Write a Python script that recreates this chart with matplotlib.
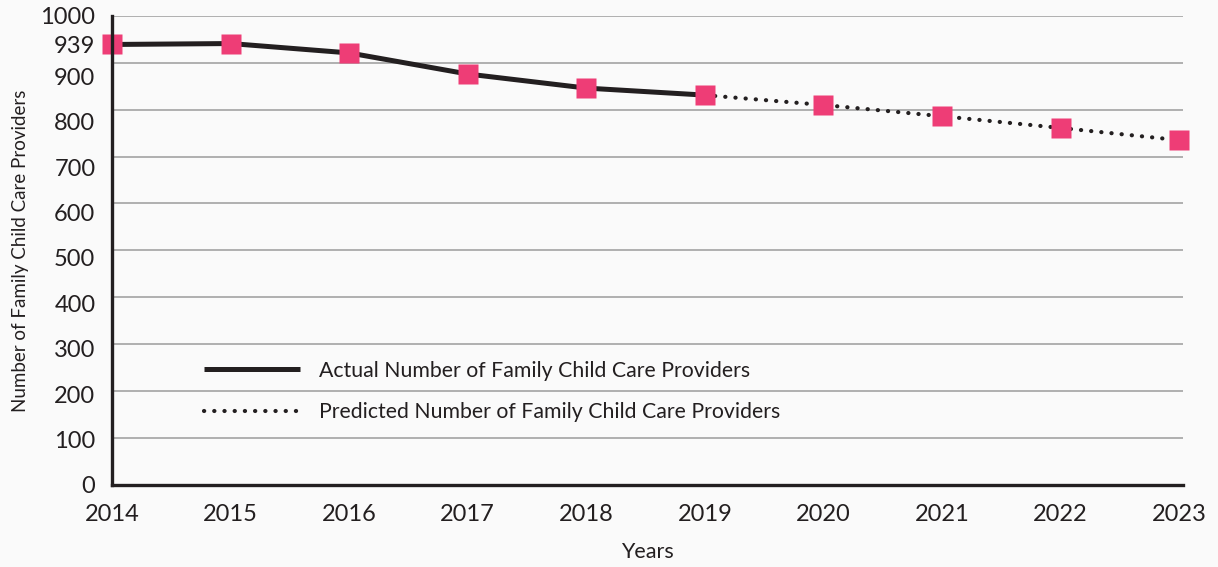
import matplotlib
matplotlib.use("Agg")
from matplotlib import pyplot as plt
from matplotlib.transforms import ScaledTranslation

# data
years = [2014, 2015, 2016, 2017, 2018, 2019, 2020, 2021, 2022, 2023]
providers = [939, 941, 921, 876, 846, 831, 810, 786, 761, 735]
split_year = 2019
actual_label = "Actual Number of Family Child Care Providers"
predicted_label = "Predicted Number of Family Child Care Providers"
y_ticks = [0, 100, 200, 300, 400, 500, 600, 700, 800, 900, 1000]
y_extra_tick = 939

plt.rcParams['font.family'] = ['Lato', 'DejaVu Sans']

bg = "#fafafa"
pink = "#ee3d76"
ink = "#231f20"

fig = plt.figure(figsize=(12.18, 5.67), dpi=100, facecolor=bg)
ax = fig.add_axes([0.092, 0.145, 0.879, 0.827], facecolor=bg)

i = years.index(split_year)
ax.plot(years[:i + 1], providers[:i + 1], color=ink, lw=3.6,
        solid_capstyle='butt', label=actual_label, clip_on=False, zorder=3)
ax.plot(years[i:], providers[i:], color=ink, lw=3.0,
        linestyle=(0, (0.05, 2.4)), dash_capstyle='round',
        label=predicted_label, clip_on=False, zorder=3)
ax.plot(years, providers, linestyle='none', marker='s', ms=15,
        mfc=pink, mec='none', clip_on=False, zorder=4)

ax.set_xlim(2014, 2023.03)
ax.set_ylim(0, 1000)
ax.set_xticks(years)
ax.set_yticks(y_ticks)
ax.set_yticks([y_extra_tick], minor=True)
ax.set_yticklabels([str(y_extra_tick)], minor=True)
ax.tick_params(axis='both', which='both', length=0, labelsize=17, colors=ink)
ax.tick_params(axis='y', which='both', pad=12)
ax.tick_params(axis='x', pad=14)

# in the reference the value labels sit a bit under their gridlines,
# more so higher up the axis (1000 and 0 stay on the line)
for lab, v in zip(ax.get_yticklabels(), y_ticks):
    dy_px = 1.5 * v / 100 if 0 < v < 1000 else 0
    lab.set_transform(lab.get_transform() +
                      ScaledTranslation(0, -dy_px / fig.dpi, fig.dpi_scale_trans))

ax.yaxis.grid(True, which='major', color='#aaaaaa', lw=1.3)
ax.set_axisbelow(True)
for s in ['top', 'right']:
    ax.spines[s].set_visible(False)
for s in ['left', 'bottom']:
    ax.spines[s].set_linewidth(2.4)
    ax.spines[s].set_color(ink)
    ax.spines[s].set_zorder(5)

ax.set_ylabel("Number of Family Child Care Providers", fontsize=13.5,
              color=ink, labelpad=8)
ax.set_xlabel("Years", fontsize=15.5, color=ink, labelpad=12)

leg = ax.legend(loc='upper left', bbox_to_anchor=(0.068, 0.305),
                frameon=False, fontsize=15.3, handlelength=4.5,
                handletextpad=0.9, labelspacing=1.0)
for t in leg.get_texts():
    t.set_color(ink)

fig.savefig("out.png", dpi=100, facecolor=bg)
